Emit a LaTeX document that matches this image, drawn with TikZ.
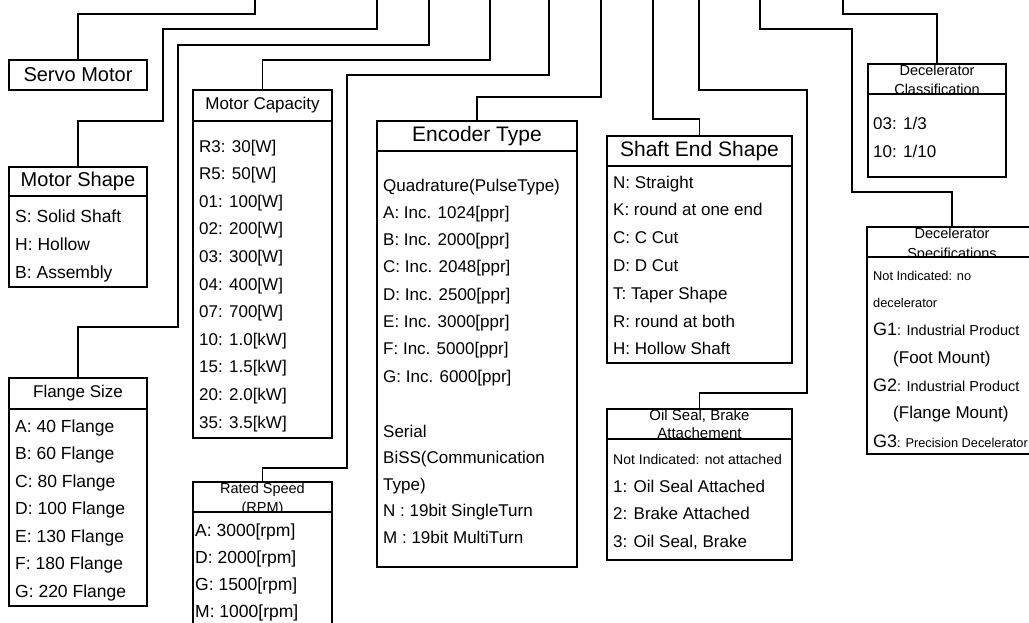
\documentclass[tikz,border=0pt]{standalone}
\usepackage{fontspec}
\setmainfont{Liberation Sans}
\newcommand\fsz[1]{\fontsize{#1pt}{#1pt}\selectfont}
\tikzset{
  box/.style={draw, line width=1.25pt, inner sep=0pt, outer sep=0pt, anchor=north west},
  hdr/.style={box, align=center},
  bodybox/.style={box, fill=white},
  lbl/.style={inner sep=0pt, anchor=base west},
  htwo/.style={inner sep=0pt, anchor=north, align=center},
  conn/.style={line width=1.25pt},
}
\newcommand\rows[6]{\foreach \t [count=\i from 0] in {#6} {\node[lbl, font=\fsz{#2}] (#1\i) at (#3, {#4+\i*#5}) {\t};}}
\begin{document}
\begin{tikzpicture}[x=1pt,y=-1pt]
\useasboundingbox (0,0) rectangle (1029,622);
\clip (0,0) rectangle (1029,622);

% ---------- headers ----------
\node[hdr, minimum width=138pt, minimum height=30pt, font=\fsz{20}] (servo) at (9,60) {Servo Motor};
\node[hdr, minimum width=138pt, minimum height=29pt, font=\fsz{20}] (shapeh) at (9,167) {Motor Shape};
\node[hdr, minimum width=138pt, minimum height=31pt, font=\fsz{17}] (flangeh) at (9,378) {Flange Size};
\node[hdr, minimum width=139pt, minimum height=31pt, font=\fsz{17}] (caph) at (193,90) {Motor Capacity};
\node[hdr, minimum width=139pt, minimum height=30pt] (speedh) at (193,482) {};
\node[htwo, font=\fontsize{14.5pt}{19pt}\selectfont] (speedt) at (262.5,482.5) {Rated Speed\\(RPM)};
\node[hdr, minimum width=200pt, minimum height=30pt, font=\fsz{21}] (ench) at (377,121) {Encoder Type};
\node[hdr, minimum width=185pt, minimum height=30pt, font=\fsz{21}] (shafth) at (607,136) {Shaft End Shape};
\node[hdr, minimum width=185pt, minimum height=30pt] (oilh) at (607,409) {};
\node[htwo, font=\fontsize{15pt}{18pt}\selectfont] (oilt) at (699.5,409.5) {Oil Seal, Brake\\Attachement};
\node[hdr, minimum width=138pt, minimum height=30pt] (clsh) at (868,64) {};
\node[htwo, font=\fontsize{14.5pt}{19pt}\selectfont] (clst) at (937,64.5) {Decelerator\\Classification};
\node[hdr, minimum width=170pt, minimum height=30pt] (spech) at (867,227) {};
\node[htwo, font=\fontsize{14.5pt}{20pt}\selectfont] (spect) at (952,227.5) {Decelerator\\Specifications};

% ---------- bodies ----------
\node[bodybox, minimum width=138pt, minimum height=91pt] (shapeb) at (shapeh.south west) {};
\node[bodybox, minimum width=138pt, minimum height=197pt] (flangeb) at (flangeh.south west) {};
\node[bodybox, minimum width=139pt, minimum height=317pt] (capb) at (caph.south west) {};
\node[bodybox, minimum width=139pt, minimum height=150pt] (speedb) at (speedh.south west) {};
\node[bodybox, minimum width=200pt, minimum height=416pt] (encb) at (ench.south west) {};
\node[bodybox, minimum width=185pt, minimum height=197pt] (shaftb) at (shafth.south west) {};
\node[bodybox, minimum width=185pt, minimum height=121pt] (oilb) at (oilh.south west) {};
\node[bodybox, minimum width=138pt, minimum height=83pt] (clsb) at (clsh.south west) {};
\node[bodybox, minimum width=170pt, minimum height=197pt] (specb) at (spech.south west) {};

% ---------- rows ----------
\rows{shp}{17.5}{15}{222}{28}{S: Solid Shaft, H: Hollow, B: Assembly}
\rows{fl}{17.5}{15}{432}{27.5}{A: 40 Flange, B: 60 Flange, C: 80 Flange, D: 100 Flange, E: 130 Flange, F: 180 Flange, G: 220 Flange}
\rows{cap}{17}{199}{152}{27.6}{R3: 30[W], R5: 50[W], 01: 100[W], 02: 200[W], 03: 300[W], 04: 400[W], 07: 700[W], 10: 1.0[kW], 15: 1.5[kW], 20: 2.0[kW], 35: 3.5[kW]}
\rows{spd}{17.5}{195}{536}{27.3}{A: 3000[rpm], D: 2000[rpm], G: 1500[rpm], M: 1000[rpm]}
\rows{enca}{17}{383}{191}{27.3}{Quadrature(PulseType), A: Inc. 1024[ppr], B: Inc. 2000[ppr], C: Inc. 2048[ppr], D: Inc. 2500[ppr], E: Inc. 3000[ppr], F: Inc. 5000[ppr], G: Inc. 6000[ppr]}
\rows{encb}{17}{383}{437}{26.5}{Serial, BiSS(Communication, Type), N : 19bit SingleTurn, M : 19bit MultiTurn}
\rows{sh}{17}{613}{188}{27.8}{N: Straight, K: round at one end, C: C Cut, D: D Cut, T: Taper Shape, R: round at both, H: Hollow Shaft}
\node[lbl, font=\fsz{14}] (oilna) at (613,464) {Not Indicated: not attached};
\rows{oil}{17}{613}{492}{27.5}{1: Oil Seal Attached, 2: Brake Attached, {3: Oil Seal, Brake}}
\rows{cls}{17}{873}{129}{28}{03: 1/3, 10: 1/10}
\node[lbl, font=\fsz{12.8}] (spna) at (873,280) {Not Indicated: no};
\node[lbl, font=\fsz{12.8}] (spnb) at (873,307) {decelerator};
\node[lbl] (spg1) at (873,335) {\fsz{18}G1\fsz{14.5}: Industrial Product};
\node[lbl, font=\fsz{17}] (spg1b) at (893,363) {(Foot Mount)};
\node[lbl] (spg2) at (873,391) {\fsz{18}G2\fsz{14.5}: Industrial Product};
\node[lbl, font=\fsz{17}] (spg2b) at (893,418) {(Flange Mount)};
\node[lbl] (spg3) at (873,447) {\fsz{18}G3\fsz{12.8}: Precision Decelerator};

% ---------- connectors ----------
\coordinate (s1) at (255,0);
\coordinate (s2) at (377,0);
\coordinate (s3) at (429,0);
\coordinate (s4) at (490,0);
\coordinate (s5) at (549,0);
\coordinate (s6) at (601,0);
\coordinate (s7) at (653,0);
\coordinate (s8) at (699,0);
\coordinate (s9) at (760,0);
\coordinate (s10) at (843,0);
\draw[conn] (s1) |- (78,14) -- (servo.north);
\draw[conn] (s2) |- (163,29) |- (78,121) -- (shapeh.north);
\draw[conn] (s3) |- (178,45) |- (78,327) -- (flangeh.north);
\draw[conn] (s4) |- (262.5,60) -- (caph.north);
\draw[conn] (s5) |- (347,75) |- (262.5,468) -- (speedh.north);
\draw[conn] (s6) |- (477,97) -- (ench.north);
\draw[conn] (s7) |- (699.5,119) -- (shafth.north);
\draw[conn] (s8) |- (807,90) |- (699.5,393) -- (oilh.north);
\draw[conn] (s9) |- (852,29) |- (952,192) -- (spech.north);
\draw[conn] (s10) |- (937,14) -- (clsh.north);
\end{tikzpicture}
\end{document}
